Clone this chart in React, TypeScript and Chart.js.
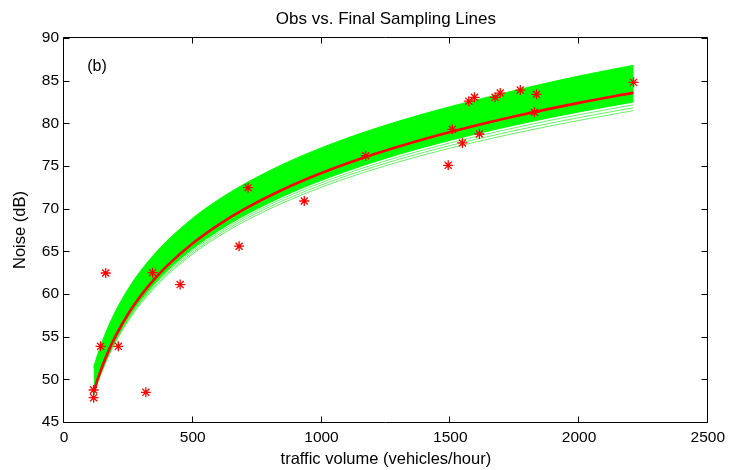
import React, { useEffect, useRef } from "react";
import { Chart, registerables } from "chart.js";

Chart.register(...registerables);

// Observed data (red asterisks)
const obsX = [115, 115, 142, 211, 162, 344, 318, 451, 680, 715, 933, 1172, 1492, 1508, 1547, 1613, 1572, 1594, 1674, 1694, 1772, 1835, 1827, 2212];
const obsY = [48.75, 47.85, 53.87, 53.87, 62.46, 62.5, 48.48, 61.1, 65.6, 72.46, 70.9, 76.2, 75.08, 79.3, 77.7, 78.75, 82.6, 83.05, 83.05, 83.55, 83.9, 83.4, 81.3, 84.8];

// Sampled x positions of the curves
const curveX = [115, 130, 150, 175, 200, 250, 300, 350, 400, 500, 600, 700, 850, 1000, 1200, 1400, 1600, 1800, 2000, 2212];
// Red fitted curve
const fitY = [48.5, 49.96, 51.65, 53.48, 55.07, 57.72, 59.88, 61.71, 63.3, 65.94, 68.11, 69.94, 72.24, 74.17, 76.34, 78.17, 79.75, 81.15, 82.4, 83.6];
// Green sampling lines: upper edge of dense band
const bandUpperY = [51.4, 52.86, 54.56, 56.4, 57.99, 60.64, 62.81, 64.64, 66.23, 68.89, 71.06, 72.89, 75.2, 77.14, 79.31, 81.14, 82.73, 84.2, 85.55, 86.8];
// lower edge of dense band
const bandDenseLowerY = [48.3, 49.72, 51.37, 53.15, 54.7, 57.29, 59.39, 61.18, 62.73, 65.3, 67.41, 69.2, 71.44, 73.32, 75.44, 77.22, 78.76, 80.12, 81.34, 82.51];
// sparse sampling lines below
const sparse1Y = [48.23, 49.64, 51.28, 53.05, 54.58, 57.15, 59.23, 61.01, 62.55, 65.1, 67.19, 68.96, 71.19, 73.05, 75.15, 76.92, 78.45, 79.8, 81.01, 82.17];
const sparse2Y = [48.17, 49.57, 51.19, 52.94, 54.47, 57.01, 59.08, 60.83, 62.36, 64.89, 66.97, 68.73, 70.93, 72.79, 74.87, 76.62, 78.13, 79.47, 80.67, 81.83];
const bandLowerY = [48.1, 49.49, 51.1, 52.84, 54.35, 56.87, 58.92, 60.66, 62.18, 64.69, 66.75, 68.49, 70.68, 72.52, 74.58, 76.32, 77.82, 79.15, 80.34, 81.49];

// Axes
const xTicks = [0, 500, 1000, 1500, 2000, 2500];
const yTicks = [45, 50, 55, 60, 65, 70, 75, 80, 85, 90];

const titleText = "Obs vs. Final Sampling Lines";
const xLabel = "traffic volume (vehicles/hour)";
const yLabel = "Noise (dB)";
const panelLabel = "(b)";
const panelX = 90;
const panelY = 86.7;

const FONT = "'Liberation Sans', Arial, Helvetica, sans-serif";

export default function App() {
  const ref = useRef<HTMLCanvasElement>(null);

  useEffect(() => {
    document.body.style.margin = "0";
    const canvas = ref.current;
    if (!canvas) return;
    const xy = (xs: number[], ys: number[]) => xs.map((x, i) => ({ x, y: ys[i] }));

    const boxPlugin = {
      id: "matlabBox",
      afterDatasetsDraw(chart: any) {
        const { ctx, chartArea: a, scales } = chart;
        const L = Math.round(a.left) - 0.5;
        const R = Math.round(a.right) - 0.5;
        const T = Math.round(a.top) - 0.5;
        const B = Math.round(a.bottom) + 0.5;
        ctx.save();
        ctx.strokeStyle = "#000";
        ctx.lineWidth = 1;
        ctx.beginPath();
        ctx.rect(L, T, R - L, B - T);
        ctx.stroke();
        const tl = 6;
        ctx.beginPath();
        xTicks.forEach((v) => {
          const px = Math.round(scales.x.getPixelForValue(v)) - 0.5;
          ctx.moveTo(px, B);
          ctx.lineTo(px, B - tl);
          ctx.moveTo(px, T);
          ctx.lineTo(px, T + tl);
        });
        yTicks.forEach((v) => {
          const py = Math.round(scales.y.getPixelForValue(v)) + 0.5;
          ctx.moveTo(L, py);
          ctx.lineTo(L + tl, py);
          ctx.moveTo(R, py);
          ctx.lineTo(R - tl, py);
        });
        ctx.stroke();
        ctx.fillStyle = "#000";
        ctx.font = `16px ${FONT}`;
        ctx.textAlign = "left";
        ctx.textBaseline = "middle";
        ctx.fillText(panelLabel, scales.x.getPixelForValue(panelX), scales.y.getPixelForValue(panelY));
        // Title centred over the axes, as in the original figure
        ctx.font = `17px ${FONT}`;
        ctx.textAlign = "center";
        ctx.textBaseline = "middle";
        ctx.fillText(titleText, (a.left + a.right) / 2, 19);
        ctx.restore();
      },
    };

    const lineDs = (label: string, ys: number[], color: string, width: number, extra: any = {}) => ({
      label,
      data: xy(curveX, ys),
      borderColor: color,
      borderWidth: width,
      pointRadius: 0,
      fill: false,
      cubicInterpolationMode: "monotone",
      ...extra,
    });

    const sparseColor = "rgba(0,230,0,0.75)";

    const chart = new Chart(canvas, {
      type: "line",
      data: {
        datasets: [
          {
            label: "obs",
            data: xy(obsX, obsY),
            showLine: false,
            pointStyle: "star",
            pointRadius: 5,
            borderColor: "#ff0000",
            backgroundColor: "#ff0000",
            borderWidth: 1.3,
            order: 0,
          } as any,
          lineDs("fit", fitY, "#ff0000", 2.6, { order: 1 }),
          lineDs("upper", bandUpperY, "#00ff00", 1, { fill: "+1", backgroundColor: "#00ff00", order: 2 }),
          lineDs("denseLower", bandDenseLowerY, "#00ff00", 1, { order: 2 }),
          lineDs("sparse1", sparse1Y, sparseColor, 0.8, { order: 2 }),
          lineDs("sparse2", sparse2Y, sparseColor, 0.8, { order: 2 }),
          lineDs("lower", bandLowerY, sparseColor, 0.8, { order: 2 }),
        ],
      },
      options: {
        responsive: false,
        animation: false,
        events: [],
        layout: { padding: { left: 0, right: 20, top: 38, bottom: 0 } },
        plugins: {
          legend: { display: false },
          tooltip: { enabled: false },
          title: { display: false },
        },
        scales: {
          x: {
            type: "linear",
            min: 0,
            max: 2500,
            afterBuildTicks: (s: any) => {
              s.ticks = xTicks.map((v) => ({ value: v }));
            },
            afterFit: (s: any) => {
              s.height = 48;
            },
            grid: { display: false, drawTicks: false },
            border: { display: false },
            ticks: {
              color: "#000",
              padding: 6,
              maxRotation: 0,
              font: { family: FONT, size: 15.5 },
              callback: (v: any) => String(v),
            },
            title: {
              display: true,
              text: xLabel,
              color: "#000",
              font: { family: FONT, size: 16.5 },
              padding: { top: 0, bottom: 1 },
            },
          },
          y: {
            type: "linear",
            min: 45,
            max: 90,
            afterBuildTicks: (s: any) => {
              s.ticks = yTicks.map((v) => ({ value: v }));
            },
            afterFit: (s: any) => {
              s.width = 64;
            },
            grid: { display: false, drawTicks: false },
            border: { display: false },
            ticks: {
              color: "#000",
              padding: 5,
              font: { family: FONT, size: 15.5 },
              callback: (v: any) => String(v),
            },
            title: {
              display: true,
              text: yLabel,
              color: "#000",
              font: { family: FONT, size: 16.5 },
              padding: { top: 11, bottom: 0 },
            },
          },
        },
      } as any,
      plugins: [boxPlugin],
    });

    return () => chart.destroy();
  }, []);

  return (
    <div style={{ width: 731, height: 470, background: "#fff" }}>
      <canvas ref={ref} width={731} height={470} style={{ display: "block" }} />
    </div>
  );
}
